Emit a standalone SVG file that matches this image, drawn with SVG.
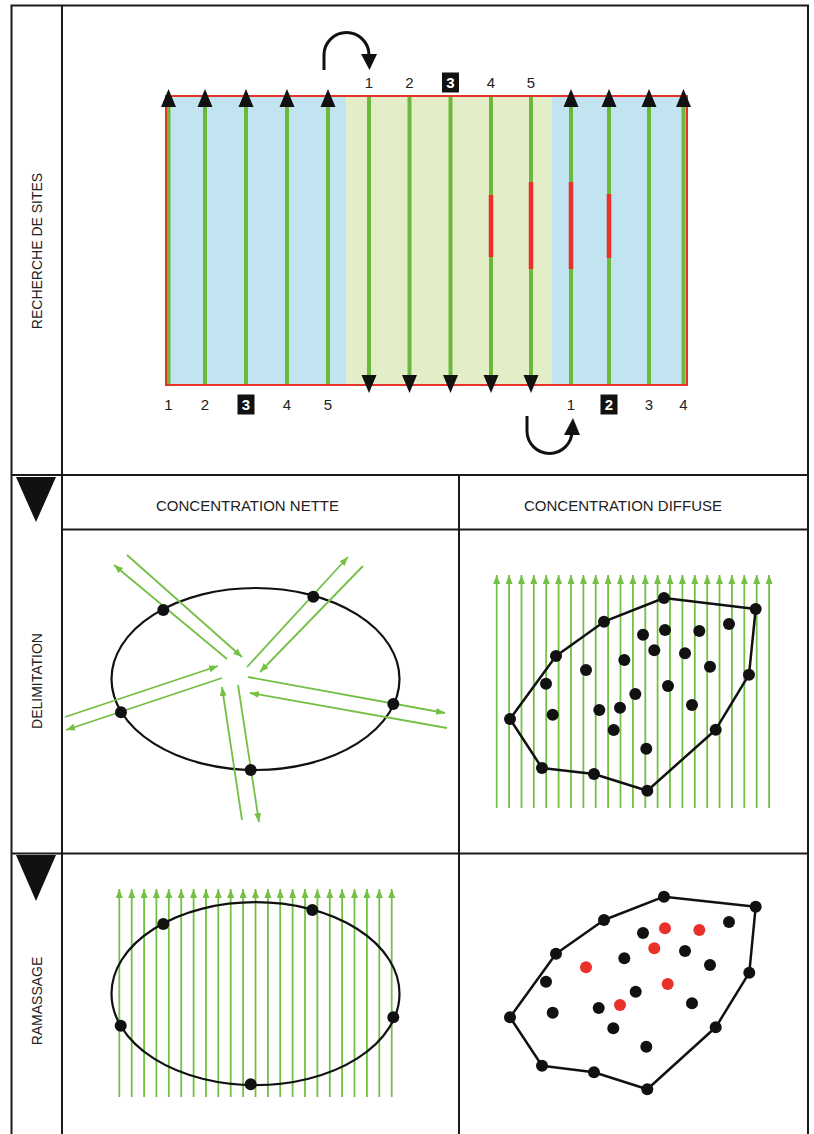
<svg xmlns="http://www.w3.org/2000/svg" width="814" height="1134" viewBox="0 0 814 1134">
<defs>
<style>
.frame{fill:none;stroke:#1a1a1a;stroke-width:2}
.lbl{font-family:"Liberation Sans",Arial,sans-serif;font-size:14px;fill:#222;text-anchor:middle}
.hdr{font-family:"Liberation Sans",Arial,sans-serif;font-size:15px;fill:#222;text-anchor:middle}
.num{font-family:"Liberation Sans",Arial,sans-serif;font-size:15px;fill:#222;text-anchor:middle}
.numw{font-family:"Liberation Sans",Arial,sans-serif;font-size:15px;fill:#fff;text-anchor:middle;font-weight:bold}
.gl{stroke:#6cb83c;stroke-width:4}
.rs{stroke:#e8312a;stroke-width:4.5}
.tg{stroke:#74c044;stroke-width:1.8;fill:none;marker-end:url(#ga)}
.el{fill:none;stroke:#111;stroke-width:2.2}
.hull{fill:none;stroke:#111;stroke-width:2.5;stroke-linejoin:round}
.dot{fill:#111}
.rdot{fill:#e8312a}
.curve{fill:none;stroke:#111;stroke-width:3}
</style>
<marker id="ga" markerUnits="userSpaceOnUse" markerWidth="10" markerHeight="8" refX="9" refY="3.5" orient="auto">
<path d="M0,0 L9,3.5 L0,7 z" fill="#74c044"/>
</marker>
</defs>
<rect width="814" height="1134" fill="#fff"/>

<g id="frame">
<rect class="frame" x="11.5" y="5.5" width="796.5" height="1132"/>
<line class="frame" x1="62" y1="5.5" x2="62" y2="1134"/>
<line class="frame" x1="11.5" y1="475" x2="808" y2="475"/>
<line class="frame" x1="62" y1="529.5" x2="808" y2="529.5"/>
<line class="frame" x1="11.5" y1="853.5" x2="808" y2="853.5"/>
<line class="frame" x1="459" y1="475" x2="459" y2="1134"/>
<polygon points="16,477 56,477 36,522" fill="#111"/>
<polygon points="16,855 56,855 36,901" fill="#111"/>
</g>

<g id="row-labels">
<text class="lbl" transform="translate(42,251) rotate(-90)">RECHERCHE DE SITES</text>
<text class="lbl" transform="translate(42,681) rotate(-90)">DELIMITATION</text>
<text class="lbl" transform="translate(42,1001) rotate(-90)">RAMASSAGE</text>
<text class="hdr" x="247.5" y="511">CONCENTRATION NETTE</text>
<text class="hdr" x="623" y="511">CONCENTRATION DIFFUSE</text>
</g>

<g id="site-search">
<rect x="166" y="96" width="180" height="289" fill="#c2e4f1"/>
<rect x="346" y="96" width="206" height="289" fill="#e3eec8"/>
<rect x="552" y="96" width="135" height="289" fill="#c2e4f1"/>
<g id="transects">
<line class="gl" x1="168.5" y1="100" x2="168.5" y2="385"/>
<line class="gl" x1="205" y1="100" x2="205" y2="385"/>
<line class="gl" x1="246" y1="100" x2="246" y2="385"/>
<line class="gl" x1="287" y1="100" x2="287" y2="385"/>
<line class="gl" x1="328" y1="100" x2="328" y2="385"/>
<line class="gl" x1="369" y1="96" x2="369" y2="380"/>
<line class="gl" x1="409.5" y1="96" x2="409.5" y2="380"/>
<line class="gl" x1="450.5" y1="96" x2="450.5" y2="380"/>
<line class="gl" x1="491" y1="96" x2="491" y2="380"/>
<line class="gl" x1="531" y1="96" x2="531" y2="380"/>
<line class="gl" x1="571" y1="100" x2="571" y2="385"/>
<line class="gl" x1="609" y1="100" x2="609" y2="385"/>
<line class="gl" x1="649" y1="100" x2="649" y2="385"/>
<line class="gl" x1="683.5" y1="100" x2="683.5" y2="385"/>
</g>
<g id="finds">
<line class="rs" x1="491" y1="195" x2="491" y2="257"/>
<line class="rs" x1="531" y1="182" x2="531" y2="269"/>
<line class="rs" x1="571" y1="182" x2="571" y2="269"/>
<line class="rs" x1="609" y1="194" x2="609" y2="258"/>
</g>
<rect x="166" y="96" width="521" height="289" fill="none" stroke="#e8312a" stroke-width="2"/>
<g id="arrowheads" fill="#111">
<polygon points="161,107 176,107 168.5,89"/>
<polygon points="197.5,107 212.5,107 205,89"/>
<polygon points="238.5,107 253.5,107 246,89"/>
<polygon points="279.5,107 294.5,107 287,89"/>
<polygon points="320.5,107 335.5,107 328,89"/>
<polygon points="563.5,107 578.5,107 571,89"/>
<polygon points="601.5,107 616.5,107 609,89"/>
<polygon points="641.5,107 656.5,107 649,89"/>
<polygon points="676,107 691,107 683.5,89"/>
<polygon points="361.5,375 376.5,375 369,393"/>
<polygon points="402,375 417,375 409.5,393"/>
<polygon points="443,375 458,375 450.5,393"/>
<polygon points="483.5,375 498.5,375 491,393"/>
<polygon points="523.5,375 538.5,375 531,393"/>
</g>
<g id="numbers-top">
<text class="num" x="369" y="88">1</text>
<text class="num" x="409.5" y="88">2</text>
<rect x="442" y="72.5" width="17" height="20" fill="#111"/>
<text class="numw" x="450.5" y="88">3</text>
<text class="num" x="491" y="88">4</text>
<text class="num" x="531" y="88">5</text>
</g>
<g id="numbers-bottom">
<text class="num" x="168.5" y="410">1</text>
<text class="num" x="205" y="410">2</text>
<rect x="237.5" y="394.5" width="17" height="20" fill="#111"/>
<text class="numw" x="246" y="410">3</text>
<text class="num" x="287" y="410">4</text>
<text class="num" x="328" y="410">5</text>
<text class="num" x="571" y="410">1</text>
<rect x="600.5" y="394.5" width="17" height="20" fill="#111"/>
<text class="numw" x="609" y="410">2</text>
<text class="num" x="649" y="410">3</text>
<text class="num" x="683.5" y="410">4</text>
</g>
<g id="turn-arrows">
<path class="curve" d="M324,70 L324,55 A22.5,22.5 0 0 1 369,55 L369,58"/>
<polygon points="361,54 377,54 369.5,70" fill="#111"/>
<path class="curve" d="M527,416 L527,431 A22.5,22.5 0 0 0 572,431 L572,434"/>
<polygon points="564,435 580,435 573,418" fill="#111"/>
</g>
</g>

<g id="delim-nette">
<ellipse class="el" cx="255.5" cy="679" rx="144" ry="91"/>
<g id="radial-connectors">
<line class="tg" x1="227" y1="659" x2="114" y2="565"/>
<line class="tg" x1="127" y1="555" x2="242" y2="657"/>
<line class="tg" x1="247" y1="667" x2="348" y2="557"/>
<line class="tg" x1="363" y1="566" x2="260" y2="672"/>
<line class="tg" x1="248" y1="677" x2="445" y2="713"/>
<line class="tg" x1="447" y1="728" x2="250" y2="693"/>
<line class="tg" x1="238" y1="685" x2="259" y2="822"/>
<line class="tg" x1="242" y1="820" x2="222" y2="687"/>
<line class="tg" x1="65" y1="717" x2="218" y2="666"/>
<line class="tg" x1="222" y1="678" x2="66" y2="730"/>
</g>
<circle class="dot" cx="163.3" cy="610" r="6"/>
<circle class="dot" cx="313.3" cy="596.7" r="6"/>
<circle class="dot" cx="121" cy="712.3" r="6"/>
<circle class="dot" cx="393.3" cy="704" r="6"/>
<circle class="dot" cx="250.7" cy="770" r="6"/>
</g>

<g id="delim-diffuse">
<g id="grid-connectors-1">
<line class="tg" x1="496.7" y1="808" x2="496.7" y2="575"/>
<line class="tg" x1="509.1" y1="808" x2="509.1" y2="575"/>
<line class="tg" x1="521.5" y1="808" x2="521.5" y2="575"/>
<line class="tg" x1="533.8" y1="808" x2="533.8" y2="575"/>
<line class="tg" x1="546.2" y1="808" x2="546.2" y2="575"/>
<line class="tg" x1="558.6" y1="808" x2="558.6" y2="575"/>
<line class="tg" x1="571" y1="808" x2="571" y2="575"/>
<line class="tg" x1="583.4" y1="808" x2="583.4" y2="575"/>
<line class="tg" x1="595.7" y1="808" x2="595.7" y2="575"/>
<line class="tg" x1="608.1" y1="808" x2="608.1" y2="575"/>
<line class="tg" x1="620.5" y1="808" x2="620.5" y2="575"/>
<line class="tg" x1="632.9" y1="808" x2="632.9" y2="575"/>
<line class="tg" x1="645.3" y1="808" x2="645.3" y2="575"/>
<line class="tg" x1="657.6" y1="808" x2="657.6" y2="575"/>
<line class="tg" x1="670" y1="808" x2="670" y2="575"/>
<line class="tg" x1="682.4" y1="808" x2="682.4" y2="575"/>
<line class="tg" x1="694.8" y1="808" x2="694.8" y2="575"/>
<line class="tg" x1="707.2" y1="808" x2="707.2" y2="575"/>
<line class="tg" x1="719.5" y1="808" x2="719.5" y2="575"/>
<line class="tg" x1="731.9" y1="808" x2="731.9" y2="575"/>
<line class="tg" x1="744.3" y1="808" x2="744.3" y2="575"/>
<line class="tg" x1="756.7" y1="808" x2="756.7" y2="575"/>
<line class="tg" x1="769.1" y1="808" x2="769.1" y2="575"/>
</g>
<polygon class="hull" points="664,598 755.7,609 749,674.7 715.7,729.7 647.3,790.7 594,774 542,768 510,719 556,656 604,621.7"/>
<g>
<circle class="dot" cx="664" cy="598" r="6"/>
<circle class="dot" cx="755.7" cy="609" r="6"/>
<circle class="dot" cx="749" cy="674.7" r="6"/>
<circle class="dot" cx="715.7" cy="729.7" r="6"/>
<circle class="dot" cx="647.3" cy="790.7" r="6"/>
<circle class="dot" cx="594" cy="774" r="6"/>
<circle class="dot" cx="542" cy="768" r="6"/>
<circle class="dot" cx="510" cy="719" r="6"/>
<circle class="dot" cx="556" cy="656" r="6"/>
<circle class="dot" cx="604" cy="621.7" r="6"/>
<circle class="dot" cx="643" cy="634.7" r="6"/>
<circle class="dot" cx="665" cy="630" r="6"/>
<circle class="dot" cx="699.3" cy="631" r="6"/>
<circle class="dot" cx="729" cy="624" r="6"/>
<circle class="dot" cx="654.3" cy="650.3" r="6"/>
<circle class="dot" cx="685" cy="653.3" r="6"/>
<circle class="dot" cx="624.3" cy="660" r="6"/>
<circle class="dot" cx="586" cy="670" r="6"/>
<circle class="dot" cx="710" cy="666.7" r="6"/>
<circle class="dot" cx="546" cy="683.7" r="6"/>
<circle class="dot" cx="668" cy="686" r="6"/>
<circle class="dot" cx="635.3" cy="694" r="6"/>
<circle class="dot" cx="620" cy="707.7" r="6"/>
<circle class="dot" cx="599.3" cy="710" r="6"/>
<circle class="dot" cx="692" cy="705" r="6"/>
<circle class="dot" cx="552.7" cy="714.7" r="6"/>
<circle class="dot" cx="613.7" cy="730" r="6"/>
<circle class="dot" cx="646.3" cy="748.7" r="6"/>
</g>
</g>

<g id="ramassage-nette">
<g id="grid-connectors-2">
<line class="tg" x1="119.3" y1="1097" x2="119.3" y2="889"/>
<line class="tg" x1="131.7" y1="1097" x2="131.7" y2="889"/>
<line class="tg" x1="144.1" y1="1097" x2="144.1" y2="889"/>
<line class="tg" x1="156.4" y1="1097" x2="156.4" y2="889"/>
<line class="tg" x1="168.8" y1="1097" x2="168.8" y2="889"/>
<line class="tg" x1="181.2" y1="1097" x2="181.2" y2="889"/>
<line class="tg" x1="193.6" y1="1097" x2="193.6" y2="889"/>
<line class="tg" x1="206" y1="1097" x2="206" y2="889"/>
<line class="tg" x1="218.3" y1="1097" x2="218.3" y2="889"/>
<line class="tg" x1="230.7" y1="1097" x2="230.7" y2="889"/>
<line class="tg" x1="243.1" y1="1097" x2="243.1" y2="889"/>
<line class="tg" x1="255.5" y1="1097" x2="255.5" y2="889"/>
<line class="tg" x1="267.9" y1="1097" x2="267.9" y2="889"/>
<line class="tg" x1="280.2" y1="1097" x2="280.2" y2="889"/>
<line class="tg" x1="292.6" y1="1097" x2="292.6" y2="889"/>
<line class="tg" x1="305" y1="1097" x2="305" y2="889"/>
<line class="tg" x1="317.4" y1="1097" x2="317.4" y2="889"/>
<line class="tg" x1="329.8" y1="1097" x2="329.8" y2="889"/>
<line class="tg" x1="342.1" y1="1097" x2="342.1" y2="889"/>
<line class="tg" x1="354.5" y1="1097" x2="354.5" y2="889"/>
<line class="tg" x1="366.9" y1="1097" x2="366.9" y2="889"/>
<line class="tg" x1="379.3" y1="1097" x2="379.3" y2="889"/>
<line class="tg" x1="391.7" y1="1097" x2="391.7" y2="889"/>
</g>
<ellipse class="el" cx="255.5" cy="993.7" rx="144" ry="91.5"/>
<circle class="dot" cx="163.3" cy="924" r="6"/>
<circle class="dot" cx="312.3" cy="910" r="6"/>
<circle class="dot" cx="120.7" cy="1025.7" r="6"/>
<circle class="dot" cx="393.3" cy="1017.3" r="6"/>
<circle class="dot" cx="250.7" cy="1084.3" r="6"/>
</g>

<g id="ramassage-diffuse">
<polygon class="hull" points="664,896.7 755.7,906.7 749.3,972.7 715.7,1027.3 647.3,1089.3 594,1072.3 542,1065.7 510,1017.3 556,953.7 604,920"/>
<circle class="dot" cx="664" cy="896.7" r="6"/>
<circle class="dot" cx="755.7" cy="906.7" r="6"/>
<circle class="dot" cx="749.3" cy="972.7" r="6"/>
<circle class="dot" cx="715.7" cy="1027.3" r="6"/>
<circle class="dot" cx="647.3" cy="1089.3" r="6"/>
<circle class="dot" cx="594" cy="1072.3" r="6"/>
<circle class="dot" cx="542" cy="1065.7" r="6"/>
<circle class="dot" cx="510" cy="1017.3" r="6"/>
<circle class="dot" cx="556" cy="953.7" r="6"/>
<circle class="dot" cx="604" cy="920" r="6"/>
<circle class="dot" cx="643" cy="933" r="6"/>
<circle class="dot" cx="729" cy="922" r="6"/>
<circle class="dot" cx="624.3" cy="958.3" r="6"/>
<circle class="dot" cx="685" cy="951" r="6"/>
<circle class="dot" cx="710" cy="965" r="6"/>
<circle class="dot" cx="546" cy="981.7" r="6"/>
<circle class="dot" cx="635.7" cy="991.7" r="6"/>
<circle class="dot" cx="598.7" cy="1008" r="6"/>
<circle class="dot" cx="552.7" cy="1012.7" r="6"/>
<circle class="dot" cx="692" cy="1003.3" r="6"/>
<circle class="dot" cx="613.3" cy="1028.3" r="6"/>
<circle class="dot" cx="646.3" cy="1046.7" r="6"/>
<circle class="rdot" cx="665" cy="928.3" r="6"/>
<circle class="rdot" cx="699.3" cy="930" r="6"/>
<circle class="rdot" cx="654.3" cy="948.3" r="6"/>
<circle class="rdot" cx="586" cy="967.3" r="6"/>
<circle class="rdot" cx="667.7" cy="984" r="6"/>
<circle class="rdot" cx="620" cy="1005" r="6"/>
</g>
</svg>
